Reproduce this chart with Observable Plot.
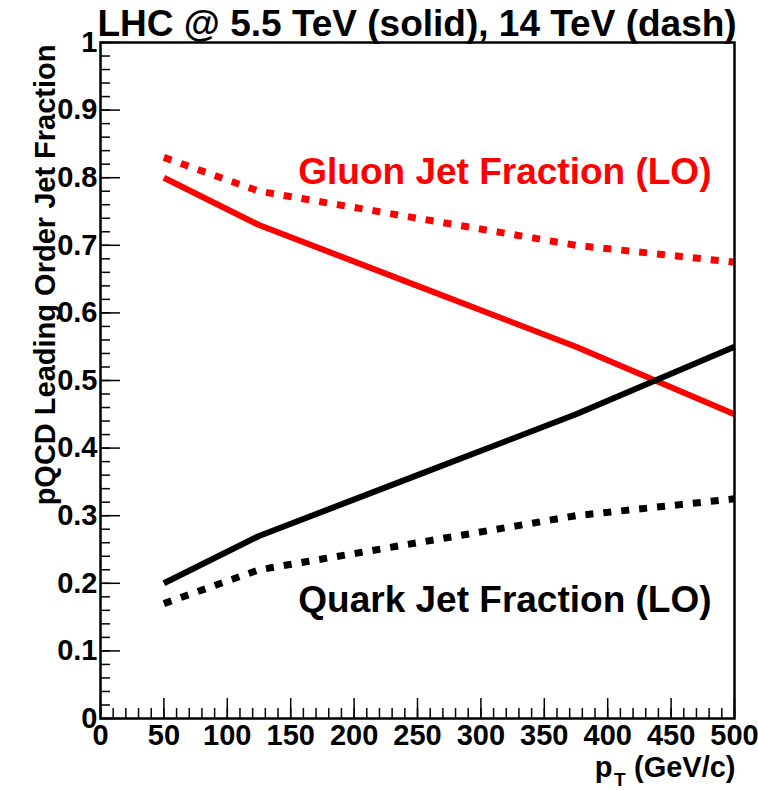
<!DOCTYPE html>
<html><head><meta charset="utf-8">
<script src="https://cdn.jsdelivr.net/npm/d3@7"></script>
<script src="https://cdn.jsdelivr.net/npm/@observablehq/plot@0.6"></script>
<style>body{margin:0;background:#fff} svg{display:block}</style>
</head><body><div id="chart"></div>
<script>
// ---- data ----
const pT      = [50, 125, 250, 375, 500];
const gluon55 = [0.80, 0.73, 0.64, 0.55, 0.45];   // solid red
const quark55 = [0.20, 0.27, 0.36, 0.45, 0.55];   // solid black
const gluon14 = [0.83, 0.78, 0.74, 0.70, 0.675];  // dashed red
const quark14 = [0.17, 0.22, 0.26, 0.30, 0.325];  // dashed black

const xMajor = d3.range(0, 11).map(i => i * 50);
const xMinor = d3.range(0, 51).map(i => i * 10);
const yMajor = d3.range(0, 11).map(i => i / 10);
const yMinor = d3.range(0, 51).map(i => i / 50);

const titleText = "LHC @ 5.5 TeV (solid), 14 TeV (dash)";
const yTitle = "pQCD Leading Order Jet Fraction";
const annotations = [
  {text: "Gluon Jet Fraction (LO)", x: 156, y: 0.808, color: "#ff0000"},
  {text: "Quark Jet Fraction (LO)", x: 156, y: 0.175, color: "#000000"}
];

const series = [
  {name: "gluon55", v: gluon55, color: "#ff0000", dash: null},
  {name: "quark55", v: quark55, color: "#000000", dash: null},
  {name: "gluon14", v: gluon14, color: "#ff0000", dash: "8,10"},
  {name: "quark14", v: quark14, color: "#000000", dash: "8,10"}
];

const W = 758, H = 790, mL = 100, mR = 24, mT = 42, mB = 72;
const fw = W - mL - mR, fh = H - mT - mB;
const fmtY = d => d === 0 ? "0" : d === 1 ? "1" : d.toFixed(1);

const lineMarks = series.map(s =>
  Plot.line(pT.map((p, i) => ({p, v: s.v[i]})), {
    x: "p", y: "v", stroke: s.color, strokeWidth: s.dash ? 7 : 6,
    strokeDasharray: s.dash, strokeLinejoin: "round", strokeLinecap: "butt"
  })
);

const chart = Plot.plot({
  width: W, height: H,
  marginLeft: mL, marginRight: mR, marginTop: mT, marginBottom: mB,
  x: {domain: [0, 500], axis: null},
  y: {domain: [0, 1], axis: null},
  style: {fontFamily: "'Liberation Sans', Arial, Helvetica, sans-serif", background: "#fff", overflow: "visible"},
  marks: [
    ...lineMarks,
    // inward ticks (ROOT style)
    Plot.tickX(xMinor, {x: d => d, insetTop: fh - 10, stroke: "black", strokeWidth: 1.5}),
    Plot.tickX(xMajor, {x: d => d, insetTop: fh - 20, stroke: "black", strokeWidth: 1.5}),
    Plot.tickY(yMinor, {y: d => d, insetRight: fw - 10, stroke: "black", strokeWidth: 1.5}),
    Plot.tickY(yMajor, {y: d => d, insetRight: fw - 20, stroke: "black", strokeWidth: 1.5}),
    Plot.frame({stroke: "black", strokeWidth: 2.5}),
    // tick labels
    Plot.text(xMajor, {x: d => d, text: d => String(d), frameAnchor: "bottom", lineAnchor: "top",
      dy: 6, fontSize: 29, fontWeight: "bold", fill: "black"}),
    Plot.text(yMajor, {y: d => d, text: fmtY, frameAnchor: "left", textAnchor: "end", lineAnchor: "middle",
      dx: -3, fontSize: 29, fontWeight: "bold", fill: "black"}),
    // series annotations
    Plot.text(annotations, {x: "x", y: "y", text: "text", fill: "color", textAnchor: "start",
      lineAnchor: "middle", fontSize: 37, fontWeight: "bold"}),
    // title
    Plot.text([titleText], {frameAnchor: "top-left", textAnchor: "start", lineAnchor: "bottom",
      dx: -3, dy: -7, fontSize: 37, fontWeight: "bold", fill: "black"}),
    // y axis title
    Plot.text([yTitle], {frameAnchor: "top-left", textAnchor: "end", lineAnchor: "bottom", rotate: -90,
      dx: -46, dy: 2, fontSize: 29, fontWeight: "bold", fill: "black"}),
    // x axis title: p_T (GeV/c)
    Plot.text(["(GeV/c)"], {frameAnchor: "bottom-right", textAnchor: "end", lineAnchor: "bottom",
      dx: 1, dy: 58, fontSize: 29, fontWeight: "bold", fill: "black"}),
    Plot.text(["T"], {frameAnchor: "bottom-right", textAnchor: "end", lineAnchor: "bottom",
      dx: -109, dy: 67, fontSize: 19, fontWeight: "bold", fill: "black"}),
    Plot.text(["p"], {frameAnchor: "bottom-right", textAnchor: "end", lineAnchor: "bottom",
      dx: -122, dy: 58, fontSize: 29, fontWeight: "bold", fill: "black"})
  ]
});
document.getElementById("chart").appendChild(chart);
</script>
</body></html>
